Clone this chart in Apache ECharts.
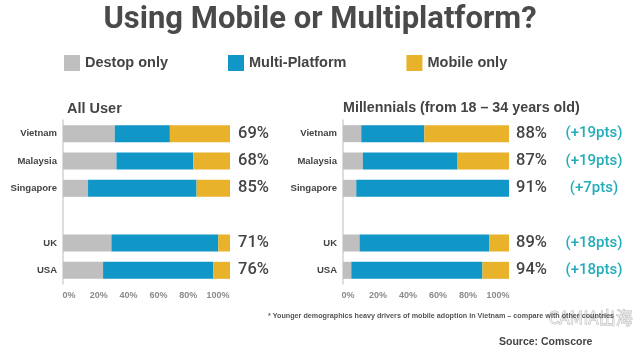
<!DOCTYPE html>
<html>
<head>
<meta charset="utf-8">
<script src="https://cdn.jsdelivr.net/npm/echarts@6/dist/echarts.min.js"></script>
<style>
html, body { margin: 0; padding: 0; background: #fff; }
#main { width: 640px; height: 353px; }
</style>
</head>
<body>
<div id="main"></div>
<script>
// categories (blank slot separates Asia from UK / USA)
const countries = ['Vietnam', 'Malaysia', 'Singapore', '', 'UK', 'USA'];
const seriesNames = ['Destop only', 'Multi-Platform', 'Mobile only'];

// All User
const allDesktop = [31, 32, 15, null, 29, 24];
const allMulti = [33, 46, 65, null, 64, 66];
const allMobile = [36, 22, 20, null, 7, 10];
const allLabels = ['69%', '68%', '85%', '', '71%', '76%'];

// Millennials (18 - 34)
const milDesktop = [11, 12, 8, null, 10, 5];
const milMulti = [38, 57, 92, null, 78, 79];
const milMobile = [51, 31, 0, null, 12, 16];
const milLabels = ['88%', '87%', '91%', '', '89%', '94%'];
const milDiff = ['(+19pts)', '(+19pts)', '(+7pts)', '', '(+18pts)', '(+18pts)'];

const colors = ['#bfbfbf', '#1196c8', '#e8b22a'];
const dark = '#444';
const sans = 'Liberation Sans, Arial, sans-serif';

const chart = echarts.init(document.getElementById('main'));

function catAxis (grid) {
  return {
    type: 'category', gridIndex: grid, data: countries, inverse: true,
    axisLine: { show: true, lineStyle: { color: '#d2d2d2', width: 1.5 } },
    axisTick: { show: false },
    axisLabel: { fontSize: 9.5, fontWeight: 'bold', color: dark, fontFamily: sans, margin: 6 }
  };
}
function valAxis (grid) {
  return { type: 'value', gridIndex: grid, min: 0, max: 100, show: false };
}
// label-only axes (tick labels in the source sit a bit inside the bars)
function tickAxis (grid) {
  return {
    type: 'value', gridIndex: grid, min: 0, max: 100, interval: 20,
    axisLine: { show: false }, axisTick: { show: false }, splitLine: { show: false },
    axisLabel: { fontSize: 9, fontWeight: 'bold', color: '#8a8a8a', fontFamily: sans, margin: 7,
      formatter: '{value}%' }
  };
}
function bars (name, data, idx, color, label) {
  const s = {
    name: name, type: 'bar', stack: 's' + idx, xAxisIndex: idx, yAxisIndex: idx,
    data: data, barWidth: 17, itemStyle: { color: color }
  };
  if (label) s.label = label;
  return s;
}

const option = {
  backgroundColor: '#fff',
  animation: false,
  title: [
    { text: 'Using Mobile or Multiplatform?', left: 'center', top: 0,
      textStyle: { fontSize: 31, fontWeight: 'bold', color: '#4a4a4a', fontFamily: 'Roboto' } },
    { text: 'All User', left: 62, top: 96,
      textStyle: { fontSize: 14.5, fontWeight: 'bold', color: dark, fontFamily: sans } },
    { text: 'Millennials (from 18 \u2013 34 years old)', left: 338, top: 96,
      textStyle: { fontSize: 14.3, fontWeight: 'bold', color: dark, fontFamily: sans } },
    { text: '* Younger demographics heavy drivers of mobile adoption in Vietnam \u2013 compare with other countries',
      left: 268, top: 313, padding: 0,
      textStyle: { fontSize: 7.2, fontWeight: 'bold', color: '#555', fontFamily: sans } },
    { text: 'Source: Comscore', left: 499, top: 337, padding: 0,
      textStyle: { fontSize: 10.5, fontWeight: 'bold', color: dark, fontFamily: sans } }
  ],
  legend: {
    data: seriesNames, left: 64, top: 55, padding: 0, icon: 'rect',
    itemWidth: 16, itemHeight: 16, itemGap: 60,
    textStyle: { fontSize: 14.5, fontWeight: 'bold', color: dark, fontFamily: sans }
  },
  grid: [
    { left: 63, top: 120, width: 167, height: 164 },
    { left: 343, top: 120, width: 166, height: 164 },
    { left: 69, top: 283, width: 149, height: 1 },
    { left: 348, top: 283, width: 150, height: 1 }
  ],
  xAxis: [valAxis(0), valAxis(1), tickAxis(2), tickAxis(3)],
  yAxis: [catAxis(0), catAxis(1),
    { type: 'value', gridIndex: 2, show: false }, { type: 'value', gridIndex: 3, show: false }],
  series: [
    bars(seriesNames[0], allDesktop, 0, colors[0]),
    bars(seriesNames[1], allMulti, 0, colors[1]),
    bars(seriesNames[2], allMobile, 0, colors[2], {
      show: true, position: 'right', distance: 8,
      fontSize: 16.5, fontWeight: 500, color: dark, fontFamily: 'Roboto',
      formatter: function (p) { return allLabels[p.dataIndex]; }
    }),
    bars(seriesNames[0], milDesktop, 1, colors[0]),
    bars(seriesNames[1], milMulti, 1, colors[1]),
    bars(seriesNames[2], milMobile, 1, colors[2], {
      show: true, position: 'right', distance: 7,
      formatter: function (p) {
        return '{a|' + milLabels[p.dataIndex] + '}{b|' + milDiff[p.dataIndex] + '}';
      },
      rich: {
        a: { fontSize: 16.5, fontWeight: 500, color: dark, fontFamily: 'Roboto', width: 40 },
        b: { fontSize: 15, fontWeight: 500, color: '#22adb9', fontFamily: 'Roboto', width: 76, align: 'center' }
      }
    })
  ],
  graphic: [
    { type: 'text', left: 548, top: 309, silent: true,
      style: { text: 'CAMIA\u51fa\u6d77', fontSize: 17, fontFamily: 'Noto Sans CJK SC',
        fill: 'rgba(255,255,255,0.5)', stroke: '#b8b8b8', lineWidth: 0.8 } }
  ]
};

chart.setOption(option);
</script>
</body>
</html>
